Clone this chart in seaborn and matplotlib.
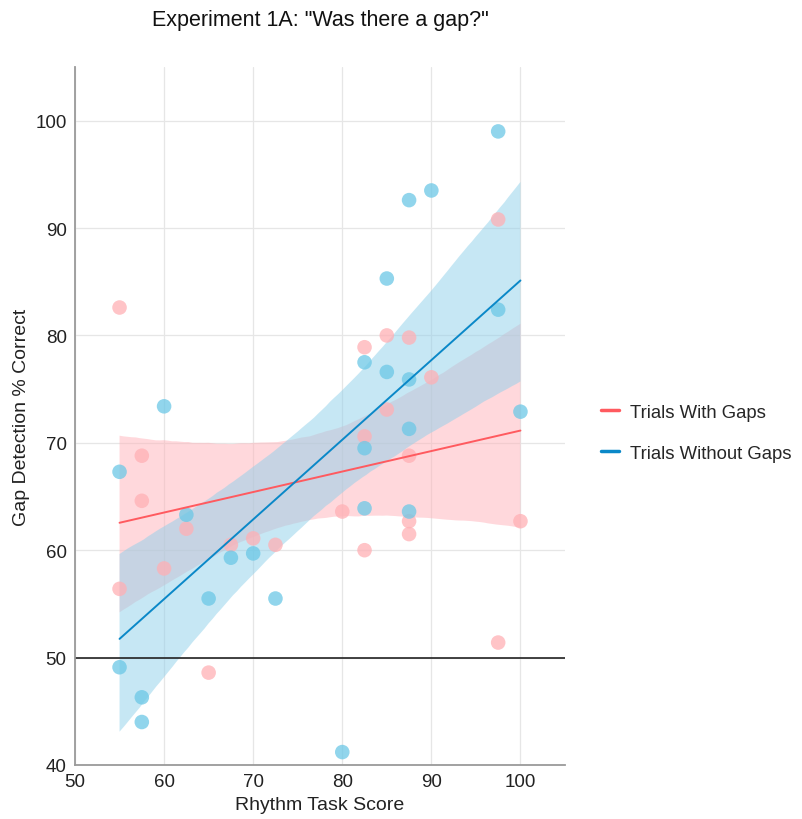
import numpy as np
import pandas as pd
import seaborn as sns
import matplotlib.pyplot as plt
from matplotlib.lines import Line2D

# Rhythm task score per participant (x) and gap-detection accuracy for each trial type
rhythm_score = [55, 55, 57.5, 57.5, 60, 62.5, 65, 67.5, 70, 72.5, 80,
                82.5, 82.5, 82.5, 85, 85, 87.5, 87.5, 87.5, 87.5, 90,
                97.5, 97.5, 100]
with_gaps = [82.6, 56.4, 68.8, 64.6, 58.3, 62.0, 48.6, 60.5, 61.1, 60.5, 63.6,
             78.9, 70.6, 60.0, 80.0, 73.1, 79.8, 68.8, 62.7, 61.5, 76.1,
             90.8, 51.4, 62.7]
without_gaps = [67.3, 49.1, 46.3, 44.0, 73.4, 63.3, 55.5, 59.3, 59.7, 55.5, 41.2,
                77.5, 69.5, 63.9, 85.3, 76.6, 92.6, 75.9, 71.3, 63.6, 93.5,
                99.0, 82.4, 72.9]
series_names = ["Trials With Gaps", "Trials Without Gaps"]

df = pd.DataFrame({
    "score": rhythm_score * 2,
    "pct": with_gaps + without_gaps,
    "trial": [series_names[0]] * len(with_gaps) + [series_names[1]] * len(without_gaps),
})

line_colors = {series_names[0]: "#FF5A5F", series_names[1]: "#0A88C8"}
dot_colors = {series_names[0]: "#FFB0B5", series_names[1]: "#6CC8E6"}
band_colors = {series_names[0]: "#FFB3BA", series_names[1]: "#8FD0EA"}

sns.set_style("white")
plt.rcParams["font.family"] = ["Liberation Sans", "DejaVu Sans"]

fig = plt.figure(figsize=(8.03, 8.20), dpi=100)
ax = fig.add_axes([0.0934, 0.0659, 0.6102, 0.8512])

for name in series_names:
    sub = df[df["trial"] == name]
    n_before = len(ax.collections)
    sns.regplot(data=sub, x="score", y="pct", ax=ax, ci=95, n_boot=6000, seed=11,
                scatter_kws=dict(color=dot_colors[name], alpha=0.75, s=110,
                                 edgecolor="none", zorder=3),
                line_kws=dict(color=line_colors[name], lw=1.4, zorder=4),
                truncate=True)
    # restyle the confidence band
    for coll in ax.collections[n_before:]:
        if coll.__class__.__name__ in ("PolyCollection", "FillBetweenPolyCollection"):
            coll.set_facecolor(band_colors[name])
            coll.set_alpha(0.5)
            coll.set_edgecolor("none")
            coll.set_zorder(1)

ax.axhline(50, color="#222222", lw=1.2, zorder=2)

ax.set_xlim(50, 105)
ax.set_ylim(40, 105)
ax.set_xticks([50, 60, 70, 80, 90, 100])
ax.set_yticks([40, 50, 60, 70, 80, 90, 100])
ax.grid(True, color="#E6E6E6", lw=0.9, zorder=0)
ax.set_axisbelow(True)

for side in ("top", "right"):
    ax.spines[side].set_visible(False)
for side in ("left", "bottom"):
    ax.spines[side].set_color("#9A9A9A")
    ax.spines[side].set_linewidth(1.3)

ax.tick_params(direction="in", length=6, width=1.2, color="#777777",
               labelsize=13.5, labelcolor="#222222", pad=6)
ax.set_xlabel("Rhythm Task Score", fontsize=14, color="#222222", labelpad=4)
ax.set_ylabel("Gap Detection % Correct", fontsize=14, color="#222222", labelpad=4)
ax.set_title('Experiment 1A: "Was there a gap?"', fontsize=15.5, color="#111111", pad=30)

handles = [Line2D([0], [0], color=line_colors[n], lw=2.5) for n in series_names]
ax.legend(handles, series_names, loc="center left", bbox_to_anchor=(1.05, 0.476),
          frameon=False, fontsize=13.3, handlelength=1.0, handletextpad=0.6,
          labelspacing=1.3, borderaxespad=0.2)

fig.savefig("out.png", dpi=100, facecolor="white")
